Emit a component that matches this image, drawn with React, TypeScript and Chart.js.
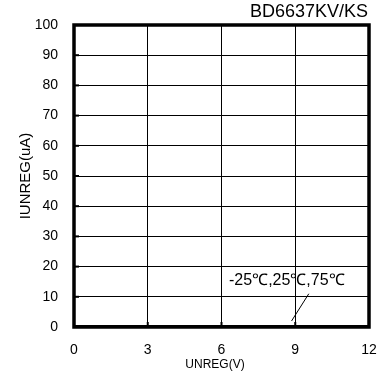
import React, { useEffect, useRef } from "react";
import { Chart, registerables } from "chart.js";

Chart.register(...registerables);

// Supply voltage (V) and standby current (uA) for the three temperatures
const voltage = [0, 1, 2, 3, 4, 5, 6, 7, 8, 9, 10, 11, 12];
const currentM25 = [0, 0, 0, 0, 0, 0, 0, 0, 0, 0, 0, 0, 0];
const current25 = [0, 0, 0, 0, 0, 0, 0, 0, 0, 0, 0, 0, 0];
const current75 = [0, 0, 0, 0, 0, 0, 0, 0, 0, 0, 0, 0, 0];
const xTicks = [0, 3, 6, 9, 12];
const yTicks = [0, 10, 20, 30, 40, 50, 60, 70, 80, 90, 100];

const partName = "BD6637KV/KS";
const tempLabel = "-25\u2103,25\u2103,75\u2103";
const xTitle = "UNREG(V)";
const yTitle = "IUNREG(uA)";

const FONT = "'Liberation Sans', Arial, sans-serif";

const decorations = {
  id: "decorations",
  afterDraw(chart: any) {
    const { ctx, chartArea: a, scales } = chart;
    const xs = scales.x;
    const ys = scales.y;
    ctx.save();
    ctx.strokeStyle = "#000";
    // inner tick stubs
    ctx.lineWidth = 2;
    yTicks.forEach((v) => {
      const y = ys.getPixelForValue(v);
      ctx.beginPath();
      ctx.moveTo(a.left, y);
      ctx.lineTo(a.left + 5, y);
      ctx.stroke();
    });
    xTicks.forEach((v) => {
      const x = xs.getPixelForValue(v);
      ctx.beginPath();
      ctx.moveTo(x, a.bottom);
      ctx.lineTo(x, a.bottom - 5);
      ctx.stroke();
    });
    // frame
    ctx.lineWidth = 3.5;
    ctx.strokeRect(a.left, a.top, a.right - a.left, a.bottom - a.top);
    // leader line to the curves
    ctx.lineWidth = 1;
    ctx.beginPath();
    ctx.moveTo(xs.getPixelForValue(8.85), ys.getPixelForValue(2));
    ctx.lineTo(xs.getPixelForValue(9.55), ys.getPixelForValue(11));
    ctx.stroke();
    // texts
    ctx.fillStyle = "#000";
    ctx.textBaseline = "middle";
    ctx.font = `18px ${FONT}`;
    ctx.textAlign = "right";
    ctx.fillText(partName, 368, 12);
    ctx.font = `16px ${FONT}`;
    ctx.textAlign = "left";
    ctx.fillText(tempLabel, 229, 281);
    ctx.font = `12px ${FONT}`;
    ctx.textAlign = "center";
    ctx.fillText(xTitle, 215, 365);
    ctx.font = `15px ${FONT}`;
    ctx.translate(26, (a.top + a.bottom) / 2);
    ctx.rotate(-Math.PI / 2);
    ctx.fillText(yTitle, 0, 0);
    ctx.restore();
  },
};

export default function App() {
  const ref = useRef<HTMLCanvasElement>(null);
  useEffect(() => {
    document.body.style.margin = "0";
    const mk = (label: string, data: number[]) => ({
      label,
      data: voltage.map((v, i) => ({ x: v, y: data[i] })),
      borderColor: "#000",
      borderWidth: 4,
      pointRadius: 0,
      fill: false,
    });
    const chart = new Chart(ref.current!, {
      type: "line",
      data: {
        datasets: [
          mk("-25\u2103", currentM25),
          mk("25\u2103", current25),
          mk("75\u2103", current75),
        ],
      },
      options: {
        animation: false,
        responsive: false,
        layout: { padding: { top: 25, right: 18, left: 0, bottom: 0 } },
        plugins: { legend: { display: false }, tooltip: { enabled: false } },
        scales: {
          x: {
            type: "linear",
            min: 0,
            max: 12,
            afterBuildTicks: (s: any) => {
              s.ticks = xTicks.map((v) => ({ value: v }));
            },
            afterFit: (s: any) => {
              s.height = 51;
              s.paddingLeft = 0;
              s.paddingRight = 0;
            },
            grid: { color: "#000", lineWidth: 1, drawTicks: false },
            border: { display: false },
            ticks: {
              color: "#000",
              padding: 15,
              font: { family: FONT, size: 14 },
            },
          },
          y: {
            type: "linear",
            min: 0,
            max: 100,
            afterBuildTicks: (s: any) => {
              s.ticks = yTicks.map((v) => ({ value: v }));
            },
            afterFit: (s: any) => {
              s.width = 74;
              s.paddingTop = 0;
              s.paddingBottom = 0;
            },
            grid: { color: "#000", lineWidth: 1, drawTicks: false },
            border: { display: false },
            ticks: {
              color: "#000",
              padding: 16,
              font: { family: FONT, size: 14 },
            },
          },
        },
      },
      plugins: [decorations],
    });
    return () => chart.destroy();
  }, []);
  return (
    <div style={{ width: 387, height: 378 }}>
      <canvas ref={ref} width={387} height={378} />
    </div>
  );
}
